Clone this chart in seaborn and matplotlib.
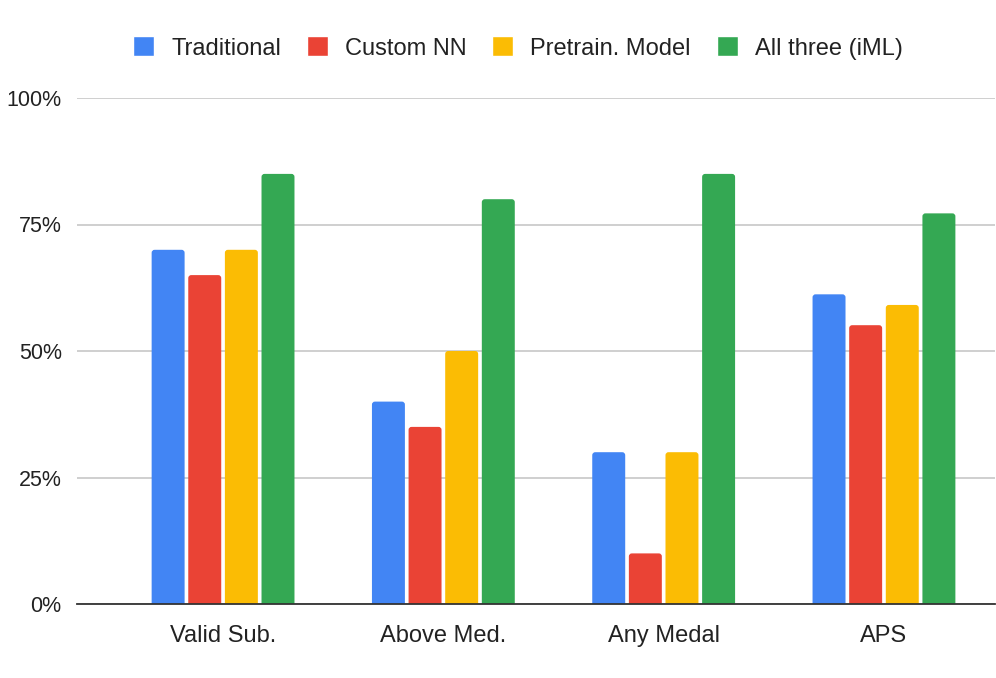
import matplotlib

matplotlib.use("Agg")

import matplotlib.pyplot as plt
import pandas as pd
import seaborn as sns
from matplotlib.patches import FancyBboxPatch
from matplotlib.ticker import PercentFormatter

categories = ["Valid Sub.", "Above Med.", "Any Medal", "APS"]
series = ["Traditional", "Custom NN", "Pretrain. Model", "All three (iML)"]
traditional = [0.70, 0.40, 0.30, 0.612]
custom_nn = [0.65, 0.35, 0.10, 0.551]
pretrained = [0.70, 0.50, 0.30, 0.591]
all_three = [0.85, 0.80, 0.85, 0.772]
colors = ["#4285F4", "#EA4335", "#FBBC04", "#34A853"]

rows = []
for name, values in zip(series, [traditional, custom_nn, pretrained, all_three]):
    for cat, v in zip(categories, values):
        rows.append({"category": cat, "series": name, "value": v})
df = pd.DataFrame(rows)

sns.set_style("white")
plt.rcParams["font.family"] = ["Liberation Sans", "DejaVu Sans"]

fig = plt.figure(figsize=(9.96, 6.78), dpi=100)
ax = fig.add_axes([77 / 996, 1 - 604 / 678, 918 / 996, 506 / 678])

sns.barplot(
    data=df,
    x="category",
    y="value",
    hue="series",
    order=categories,
    hue_order=series,
    palette=colors,
    width=0.665,
    gap=0.1,
    saturation=1,
    ax=ax,
    zorder=3,
)

ax.set_ylim(0, 1)
ax.set_xlim(-0.663, 3.504)

# swap plain rectangles for slightly rounded ones (top corners only show)
px_x = 918 / (3.504 + 0.663)
px_y = 506
r = 3 / px_x
for bar in list(ax.patches):
    x, w, h = bar.get_x(), bar.get_width(), bar.get_height()
    if h <= 0:
        continue
    dy = 4 / px_y
    rounded = FancyBboxPatch(
        (x, -dy), w, h + dy,
        boxstyle=f"round,pad=0,rounding_size={r}",
        mutation_aspect=px_x / px_y,
        facecolor=bar.get_facecolor(),
        edgecolor="none",
        zorder=3,
    )
    bar.set_visible(False)
    ax.add_patch(rounded)

ax.set_yticks([0, 0.25, 0.5, 0.75, 1.0])
ax.yaxis.set_major_formatter(PercentFormatter(1, decimals=0))
ax.grid(axis="y", color="#cccccc", linewidth=1.3, zorder=0)
ax.set_xlabel("")
ax.set_ylabel("")
for side in ["top", "right", "left"]:
    ax.spines[side].set_visible(False)
ax.spines["bottom"].set_color("#333333")
ax.spines["bottom"].set_linewidth(1.3)
ax.spines["bottom"].set_zorder(4)
ax.tick_params(axis="x", length=0, pad=15, labelsize=17, labelcolor="#222222")
ax.tick_params(axis="y", length=0, pad=11, labelsize=15.5, labelcolor="#222222")

handles, labels = ax.get_legend_handles_labels()
ax.legend_.remove()
fig.legend(
    handles,
    labels,
    loc="center",
    bbox_to_anchor=(0.52, 1 - 48 / 678),
    ncol=4,
    frameon=False,
    fontsize=17,
    handlelength=0.89,
    handleheight=0.93,
    handletextpad=0.72,
    columnspacing=1.1,
    labelcolor="#222222",
)

fig.savefig("out.png", dpi=100)
